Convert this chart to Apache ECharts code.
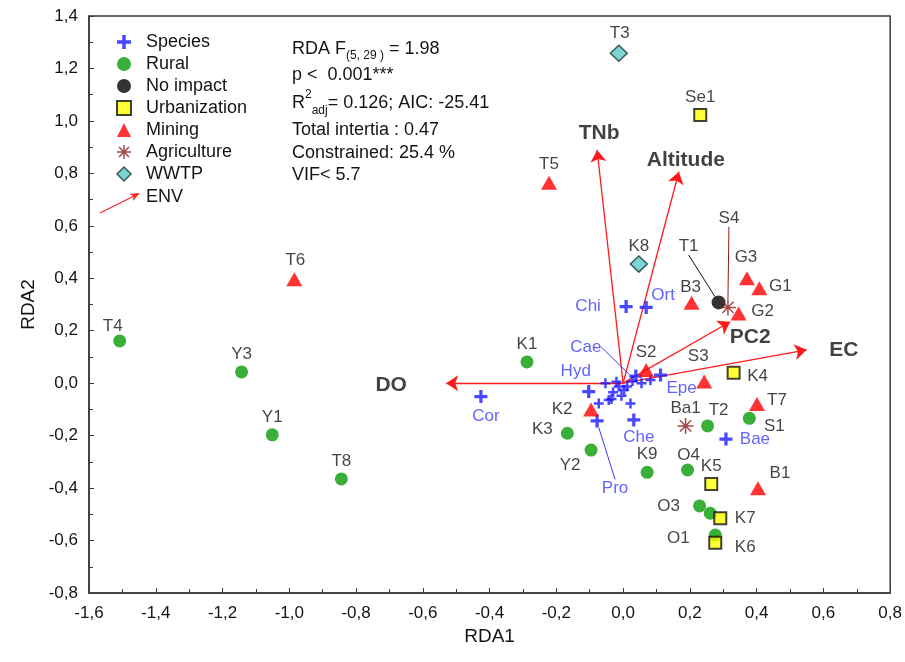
<!DOCTYPE html>
<html><head><meta charset="utf-8">
<script src="https://cdn.jsdelivr.net/npm/echarts@6/dist/echarts.min.js"></script>
<style>html,body{margin:0;padding:0;background:#fff}#c{width:905px;height:662px}</style>
</head><body><div id="c"></div>
<script>
// ---- data (RDA1, RDA2) ----
const rural = [['T4',-1.508,0.161],['Y3',-1.143,0.043],['Y1',-1.051,-0.197],['T8',-0.844,-0.365],['K1',-0.288,0.081],['K3',-0.167,-0.191],['Y2',-0.096,-0.255],['K9',0.072,-0.34],['O4',0.193,-0.331],['T2',0.253,-0.163],['S1',0.378,-0.134],['O3',0.229,-0.468],['',0.261,-0.496],['O1',0.276,-0.579]];
const noImpact = [['T1',0.286,0.308]];
const urban = [['Se1',0.231,1.023],['K4',0.331,0.04],['K5',0.264,-0.384],['K7',0.291,-0.515],['K6',0.276,-0.608]];
const mining = [['T5',-0.222,0.764],['T6',-0.985,0.396],['K2',-0.096,-0.1],['S2',0.069,0.05],['S3',0.243,0.006],['B3',0.205,0.307],['G3',0.371,0.4],['G1',0.408,0.362],['G2',0.346,0.266],['T7',0.401,-0.079],['B1',0.404,-0.401]];
const agriculture = [['S4',0.314,0.289],['Ba1',0.187,-0.163]];
const wwtp = [['T3',-0.013,1.258],['K8',0.047,0.454]];
const species = [['Chi',0.009,0.292],['Ort',0.069,0.289],['Cae',0.038,0.027],['Hyd',-0.103,-0.032],['Epe',0.112,0.031],['Che',0.032,-0.14],['Bae',0.308,-0.213],['Pro',-0.078,-0.144],['Cor',-0.426,-0.051]];
const speciesMinor = [[-0.073,-0.077],[-0.053,0.0],[-0.043,-0.064],[0.022,-0.077],[0.082,0.012],[-0.013,-0.013],[0.012,-0.013],[-0.03,-0.035],[-0.02,0.005],[0.003,-0.025],[0.028,0.008],[0.055,0.0],[-0.005,-0.048],[-0.035,-0.06]];
const env = [['DO',-0.53,0.0],['TNb',-0.078,0.889],['Altitude',0.167,0.806],['PC2',0.321,0.234],['EC',0.55,0.127]];
const xRange = [-1.6, 0.8], yRange = [-0.8, 1.4], tickStep = 0.2;

// ---- label placement (pixel offsets of label centre from the mark) ----
const labelOffsets = {T4:[-7,-15],T6:[1,-19],T3:[1,-20],G3:[-1,-21],S3:[-6,-25],K2:[-29,0],K3:[-25,-4],Y2:[-21,15],O4:[1,-15],B1:[22,-15],O3:[-31,0],K7:[25,0],O1:[-37,3],K6:[30,5],S1:[25,8],G1:[21,-2],G2:[24,-2],K4:[24,4],T7:[20,-4],T2:[11,-16],B3:[-1,-15],T1:[-30,-56],S4:[1,-89],Chi:[-38,0],Ort:[17,-12],Cae:[-50,-29],Hyd:[-13,-20],Epe:[21,13],Che:[5,17],Bae:[29,0],Pro:[18,67],Cor:[5,20],
  EC:[37,0],PC2:[20,15],TNb:[2,-17],Altitude:[7,-12],DO:[-55,2]};
const leader = {T1:'#111111',S4:'#8b1c1c',Cae:'#3b3bff',Pro:'#3b3bff'};

const FONT = 'Liberation Sans, Arial, sans-serif';
const TXT = '#141414';
const BLUE = '#1a1aff', GREEN = '#079a07', RED = '#ff0000', AGRI = '#8b1c1c';
const plusPath = 'path://M4.5,0h3v4.5h4.5v3h-4.5v4.5h-3v-4.5h-4.5v-3h4.5z';
const starPath = 'path://M0,-8L0,8M-8,0L8,0M-5.66,-5.66L5.66,5.66M-5.66,5.66L5.66,-5.66';

function pts(arr){
  return arr.map(d => {
    const item = {name: d[0], value: [d[1], d[2]]};
    if (leader[d[0]]) item.labelLine = {show: true, lineStyle: {color: leader[d[0]], width: 1}};
    return item;
  });
}
function layoutFor(arr){
  return function(p){
    const o = labelOffsets[arr[p.dataIndex][0]] || [0,-18];
    return {dx: o[0], dy: o[1]};
  };
}
function scatter(name, arr, extra, labelColor){
  return Object.assign({
    type: 'scatter', name: name, data: pts(arr),
    label: {show: true, position: 'inside', formatter: '{b}', color: labelColor || TXT, fontSize: 17, fontFamily: FONT},
    labelLayout: layoutFor(arr),
    emphasis: {disabled: true}, z: 5
  }, extra);
}
const fmt = v => (Math.abs(v) < 1e-9 ? 0 : v).toFixed(1).replace('.', ',');
const txt = (x, y, s, extra) => ({type: 'text', x: x, y: y, z: 100,
  style: Object.assign({text: s, font: '18px ' + FONT, fill: TXT, verticalAlign: 'middle'}, extra || {})});

const option = {
  animation: false,
  backgroundColor: '#ffffff',
  grid: {left: 89, right: 13, top: 16, bottom: 69, show: true, borderColor: '#3a3a3a', borderWidth: 1.5, backgroundColor: 'transparent'},
  xAxis: {
    type: 'value', min: xRange[0], max: xRange[1], interval: tickStep,
    name: 'RDA1', nameLocation: 'middle', nameGap: 27,
    nameTextStyle: {fontSize: 19, fontFamily: FONT, color: TXT},
    axisLine: {show: true, onZero: false, lineStyle: {color: '#3a3a3a', width: 1.5}},
    axisTick: {show: true, inside: true, length: 5, lineStyle: {color: '#3a3a3a'}},
    minorTick: {show: true, splitNumber: 2, length: 4, lineStyle: {color: '#3a3a3a'}},
    splitLine: {show: false},
    axisLabel: {formatter: fmt, fontSize: 17, fontFamily: FONT, color: TXT, margin: 12}
  },
  yAxis: {
    type: 'value', min: yRange[0], max: yRange[1], interval: tickStep,
    name: 'RDA2', nameLocation: 'middle', nameGap: 50,
    nameTextStyle: {fontSize: 19, fontFamily: FONT, color: TXT},
    axisLine: {show: true, onZero: false, lineStyle: {color: '#3a3a3a', width: 1.5}},
    axisTick: {show: true, inside: true, length: 5, lineStyle: {color: '#3a3a3a'}},
    minorTick: {show: true, splitNumber: 2, length: 4, lineStyle: {color: '#3a3a3a'}},
    splitLine: {show: false},
    axisLabel: {formatter: fmt, fontSize: 17, fontFamily: FONT, color: TXT, margin: 11}
  },
  legend: {
    orient: 'vertical', left: 111, top: 28, itemWidth: 14, itemHeight: 14, itemGap: 4,
    selectedMode: false,
    textStyle: {fontSize: 18, fontFamily: FONT, color: TXT, lineHeight: 14, padding: [0,0,0,10]},
    data: [
      {name: 'Species', icon: plusPath, itemStyle: {color: BLUE, borderWidth: 0}},
      {name: 'Rural', icon: 'circle', itemStyle: {color: GREEN, borderWidth: 0}},
      {name: 'No impact', icon: 'circle', itemStyle: {color: '#000', borderWidth: 0}},
      {name: 'Urbanization', icon: 'rect', itemStyle: {color: '#ffff00', borderColor: '#111', borderWidth: 2}},
      {name: 'Mining', icon: 'triangle', itemStyle: {color: RED, borderWidth: 0}},
      {name: 'Agriculture', icon: starPath, itemStyle: {color: 'rgba(0,0,0,0)', borderColor: AGRI, borderWidth: 1.5}},
      {name: 'WWTP', icon: 'diamond', itemStyle: {color: '#5ccbc8', borderColor: '#1d3535', borderWidth: 1.5}}
    ]
  },
  graphic: [
    {type: 'polyline', z: 100, shape: {points: [[100,213],[134,196]]}, style: {stroke: '#ff2020', lineWidth: 1.2, fill: null}},
    {type: 'polygon', z: 100, shape: {points: [[140,193],[132.8,201],[133.7,196.1],[129.3,193.9]]}, style: {fill: '#ff2020'}},
    txt(146, 197, 'ENV'),
    txt(292, 49, 'RDA F{sub|(5, 29 )} = 1.98', {lineHeight: 26,
      rich: {sub: {fontSize: 12, fontFamily: FONT, fill: TXT, lineHeight: 12, verticalAlign: 'bottom'}}}),
    txt(292, 75, 'p <  0.001***'),
    txt(292, 103, 'R{sup|2}{sub|adj}= 0.126; AIC: -25.41', {lineHeight: 28,
      rich: {sub: {fontSize: 12, fontFamily: FONT, fill: TXT, lineHeight: 12, verticalAlign: 'bottom'},
             sup: {fontSize: 12, fontFamily: FONT, fill: TXT, lineHeight: 12, verticalAlign: 'top'}}}),
    txt(292, 130, 'Total intertia : 0.47'),
    txt(292, 153, 'Constrained: 25.4 %'),
    txt(292, 175, 'VIF< 5.7')
  ],
  series: [
    {
      type: 'lines', name: 'ENV', coordinateSystem: 'cartesian2d', z: 3,
      data: env.map(e => ({coords: [[0, 0], [e[1], e[2]]]})),
      symbol: ['none', 'arrow'], symbolSize: [8, 12],
      lineStyle: {color: '#ff1a1a', width: 1.3, opacity: 1, curveness: 0}
    },
    {
      type: 'scatter', name: 'ENV labels', data: env.map(e => ({name: e[0], value: [e[1], e[2]]})),
      symbolSize: 0, z: 6,
      label: {show: true, position: 'inside', formatter: '{b}', color: '#111', fontSize: 21, fontWeight: 'bold', fontFamily: FONT},
      labelLayout: layoutFor(env), emphasis: {disabled: true}
    },
    {type: 'scatter', name: 'Species', data: speciesMinor, symbol: plusPath, symbolSize: 10, itemStyle: {color: BLUE}, z: 4, emphasis: {disabled: true}},
    scatter('Species', species, {symbol: plusPath, symbolSize: 13, itemStyle: {color: BLUE}}, '#3b3bff'),
    scatter('Rural', rural, {symbol: 'circle', symbolSize: 13, itemStyle: {color: GREEN}}),
    scatter('No impact', noImpact, {symbol: 'circle', symbolSize: 14, itemStyle: {color: '#000'}}),
    scatter('Urbanization', urban, {symbol: 'rect', symbolSize: 12, itemStyle: {color: '#ffff00', borderColor: '#111', borderWidth: 2}}),
    scatter('Mining', mining, {symbol: 'triangle', symbolSize: [16, 14], itemStyle: {color: RED}}),
    scatter('Agriculture', agriculture, {symbol: starPath, symbolSize: 16, itemStyle: {color: 'rgba(0,0,0,0)', borderColor: AGRI, borderWidth: 1.5}}),
    scatter('WWTP', wwtp, {symbol: 'diamond', symbolSize: [17, 16], itemStyle: {color: '#5ccbc8', borderColor: '#1d3535', borderWidth: 1.5}})
  ]
};
const chart = echarts.init(document.getElementById('c'), null, {renderer: 'canvas'});
chart.setOption(option);
</script>
</body></html>
